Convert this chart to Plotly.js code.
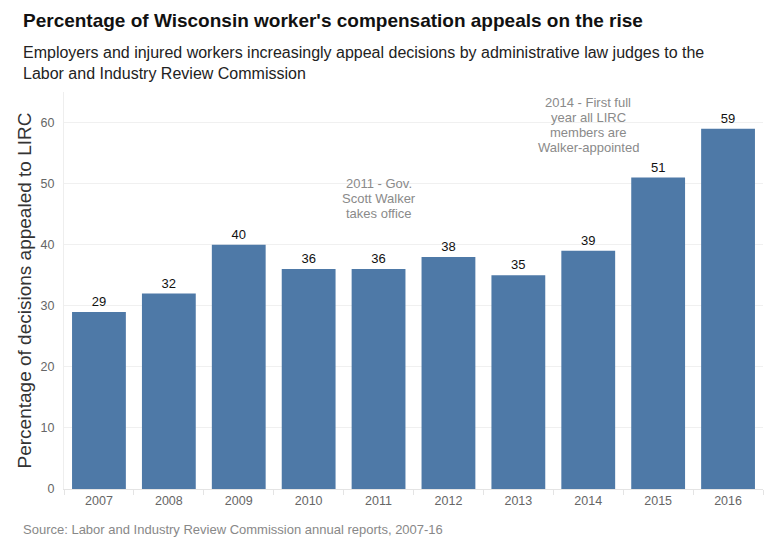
<!DOCTYPE html>
<html>
<head>
<meta charset="utf-8">
<script src="https://cdn.plot.ly/plotly-3.0.1.min.js"></script>
<style>
html,body{margin:0;padding:0;background:#fff;}
#chart{width:770px;height:549px;}
</style>
</head>
<body>
<div id="chart"></div>
<script>
var years = ["2007","2008","2009","2010","2011","2012","2013","2014","2015","2016"];
var percentAppealed = [29, 32, 40, 36, 36, 38, 35, 39, 51, 59];
var yTicks = [0, 10, 20, 30, 40, 50, 60];
var noteYears = ["2011", "2014"];
var noteLines = [
  ["2011 - Gov.", "Scott Walker", "takes office"],
  ["2014 - First full", "year all LIRC", "members are", "Walker-appointed"]
];
var noteLevels = [50.1, 63.2];

var font = "Arial, 'Liberation Sans', sans-serif";

var trace = {
  type: "bar",
  x: years,
  y: percentAppealed,
  marker: {color: "#4e79a7"},
  text: percentAppealed.map(String),
  textposition: "outside",
  textfont: {family: font, size: 13, color: "#111"},
  cliponaxis: false,
  hoverinfo: "x+y"
};

var annotations = [
  {xref: "paper", yref: "paper", x: -0.062, y: 1.179, xanchor: "left", yanchor: "middle",
   text: "<b>Percentage of Wisconsin worker's compensation appeals on the rise</b>",
   showarrow: false, font: {family: font, size: 19, color: "#111"}},
  {xref: "paper", yref: "paper", x: -0.062, y: 1.072, xanchor: "left", yanchor: "middle", align: "left",
   text: "Employers and injured workers increasingly appeal decisions by administrative law judges to the<br>Labor and Industry Review Commission",
   showarrow: false, font: {family: font, size: 16, color: "#222"}},
  {xref: "paper", yref: "paper", x: -0.062, y: -0.1008, xanchor: "left", yanchor: "middle",
   text: "Source: Labor and Industry Review Commission annual reports, 2007-16",
   showarrow: false, font: {family: font, size: 13, color: "#888"}}
];
for (var i = 0; i < noteYears.length; i++) {
  var idx = years.indexOf(noteYears[i]);
  for (var j = 0; j < noteLines[i].length; j++) {
    annotations.push({
      xref: "x", yref: "y", x: idx, y: noteLevels[i], xanchor: "center", yanchor: "middle",
      yshift: -15 * j,
      text: noteLines[i][j], showarrow: false, align: "center",
      font: {family: font, size: 13, color: "#8a8a8a"}
    });
  }
}

var layout = {
  width: 770, height: 549,
  margin: {l: 64, r: 7, t: 92, b: 60},
  paper_bgcolor: "#fff", plot_bgcolor: "#fff",
  bargap: 0.23,
  showlegend: false,
  xaxis: {
    type: "category",
    range: [-0.5, years.length - 0.5],
    tickson: "boundaries",
    ticks: "outside", ticklen: 5, tickcolor: "#e4e4e4",
    showline: true, linecolor: "#e4e4e4",
    showgrid: false,
    tickangle: 0,
    tickfont: {family: font, size: 12.5, color: "#666"}
  },
  yaxis: {
    range: [0, 65],
    tickvals: yTicks,
    showgrid: true, gridcolor: "#f0f0f0",
    zeroline: false,
    showline: true, linecolor: "#eeeeee",
    ticks: "",
    ticklabelstandoff: 6,
    tickfont: {family: font, size: 12.5, color: "#666"},
    title: {text: "Percentage of decisions appealed to LIRC", font: {family: font, size: 19, color: "#333"}, standoff: 3}
  },
  annotations: annotations
};

Plotly.newPlot("chart", [trace], layout, {displayModeBar: false, staticPlot: true});
</script>
</body>
</html>
